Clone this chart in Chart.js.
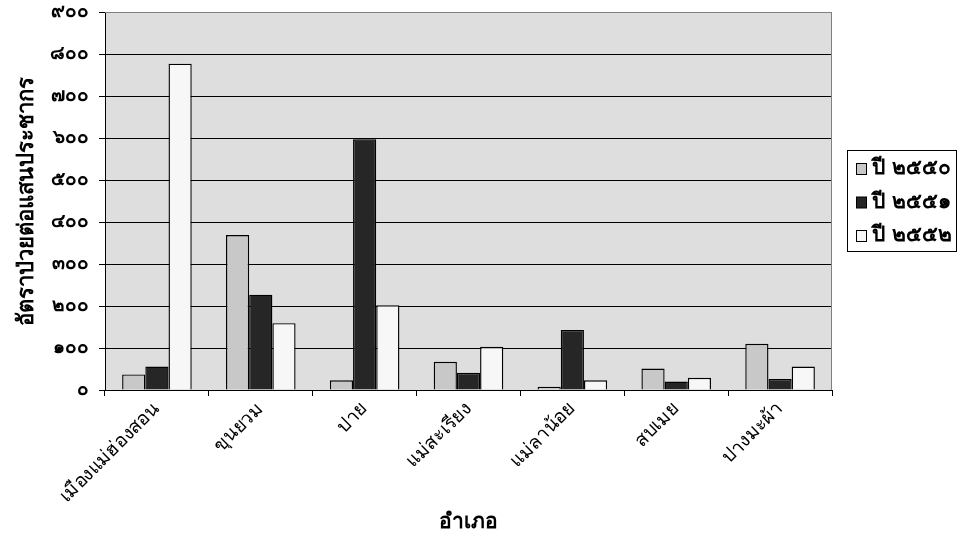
<!DOCTYPE html>
<html lang="th">
<head>
    <meta charset="UTF-8">
    <title>อัตราป่วยต่อแสนประชากร</title>
    <style>
        html, body { margin: 0; padding: 0; background: #ffffff; }
        .chart-box { width: 960px; height: 541px; }
    </style>
    <script src="https://cdn.jsdelivr.net/npm/chart.js"></script>
</head>
<body>
    <div class="chart-box">
        <canvas id="rateChart" width="960" height="541"></canvas>
    </div>
    <script>
        // ข้อมูล
        const districts = ['เมืองแม่ฮ่องสอน', 'ขุนยวม', 'ปาย', 'แม่สะเรียง', 'แม่ลาน้อย', 'สบเมย', 'ปางมะผ้า'];
        const seriesNames = ['ปี ๒๕๕๐', 'ปี ๒๕๕๑', 'ปี ๒๕๕๒'];
        const year2550 = [37, 369, 23, 67, 8, 51, 110];
        const year2551 = [56, 227, 597, 41, 143, 20, 26];
        const year2552 = [777, 159, 202, 103, 23, 29, 56];
        const yTicks = [0, 100, 200, 300, 400, 500, 600, 700, 800, 900];
        const seriesColors = ['#c8c8c8', '#262626', '#f7f7f7'];

        const FONT = "Tahoma, 'DejaVu Sans', sans-serif";
        const thaiDigits = '๐๑๒๓๔๕๖๗๘๙';
        function toThai(n) {
            return String(n).replace(/[0-9]/g, d => thaiDigits[d]);
        }

        // พื้นหลังพล็อต + กรอบ
        const plotBg = {
            id: 'plotBg',
            beforeDraw(chart) {
                const { ctx, chartArea: a } = chart;
                ctx.save();
                ctx.fillStyle = '#dedede';
                ctx.fillRect(a.left, a.top, a.right - a.left, a.bottom - a.top);
                ctx.restore();
            },
            afterDatasetsDraw(chart) {
                const { ctx, chartArea: a } = chart;
                ctx.save();
                ctx.strokeStyle = '#808080';
                ctx.lineWidth = 1;
                ctx.beginPath();
                ctx.moveTo(a.left, a.top + 0.5);
                ctx.lineTo(a.right - 0.5, a.top + 0.5);
                ctx.lineTo(a.right - 0.5, a.bottom);
                ctx.stroke();
                ctx.restore();
            }
        };

        // คำอธิบาย (legend) แบบมีกรอบ
        const boxLegend = {
            id: 'boxLegend',
            afterDraw(chart) {
                const ctx = chart.ctx;
                const x = 847, y = 150, w = 109, h = 101;
                ctx.save();
                ctx.strokeStyle = '#000';
                ctx.lineWidth = 1;
                ctx.strokeRect(x + 0.5, y + 0.5, w, h);
                ctx.font = 'bold 21px ' + FONT;
                ctx.textBaseline = 'middle';
                seriesNames.forEach((name, i) => {
                    const cy = 169 + i * 33.5;
                    ctx.fillStyle = seriesColors[i];
                    ctx.fillRect(856.5, cy - 5.5, 10, 11);
                    ctx.strokeRect(856.5, cy - 5.5, 10, 11);
                    ctx.fillStyle = '#000';
                    ctx.fillText(name, 872, cy);
                });
                ctx.restore();
            }
        };

        const ctx = document.getElementById('rateChart').getContext('2d');
        new Chart(ctx, {
            type: 'bar',
            data: {
                labels: districts,
                datasets: [year2550, year2551, year2552].map((vals, i) => ({
                    label: seriesNames[i],
                    data: vals,
                    backgroundColor: seriesColors[i],
                    borderColor: '#000',
                    borderWidth: 1.4,
                    barPercentage: 1.0,
                    categoryPercentage: 0.67
                }))
            },
            options: {
                responsive: false,
                animation: false,
                layout: { padding: { top: 12, right: 128, bottom: 6, left: 14 } },
                plugins: {
                    legend: { display: false },
                    tooltip: { enabled: false }
                },
                scales: {
                    x: {
                        grid: {
                            display: true,
                            drawOnChartArea: false,
                            drawTicks: true,
                            tickLength: 6,
                            color: '#000',
                            offset: true
                        },
                        border: { color: '#000', width: 1 },
                        ticks: {
                            color: '#000',
                            font: { family: FONT, size: 19 },
                            maxRotation: 45,
                            minRotation: 45,
                            autoSkip: false,
                            padding: 2
                        },
                        title: {
                            display: true,
                            text: 'อำเภอ',
                            color: '#000',
                            font: { family: FONT, size: 21, weight: 'bold' },
                            padding: { top: 4, bottom: 0 }
                        },
                        afterFit(scale) { scale.height = 145; }
                    },
                    y: {
                        min: 0,
                        max: 900,
                        afterBuildTicks(scale) {
                            scale.ticks = yTicks.map(v => ({ value: v }));
                        },
                        grid: {
                            color: c => (c.tick && c.tick.value === 900) ? '#808080' : '#000',
                            tickColor: '#000',
                            tickLength: 6
                        },
                        border: { color: '#000', width: 1 },
                        ticks: {
                            color: '#000',
                            font: { family: FONT, size: 19, weight: 'bold' },
                            padding: 10,
                            callback: v => toThai(v)
                        },
                        title: {
                            display: true,
                            text: 'อัตราป่วยต่อแสนประชากร',
                            color: '#000',
                            font: { family: FONT, size: 22, weight: 'bold' },
                            padding: { top: 0, bottom: 0 }
                        },
                        afterFit(scale) {
                            scale.width = 91;
                            scale.paddingTop = 0;
                            scale.paddingBottom = 0;
                        }
                    }
                }
            },
            plugins: [plotBg, boxLegend]
        });
    </script>
</body>
</html>
